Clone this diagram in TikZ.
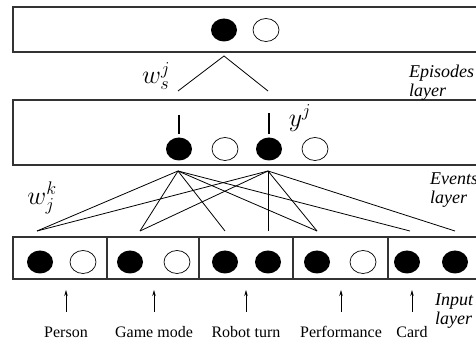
\RequirePackage{fix-cm}
\documentclass[tikz,border=0pt]{standalone}
\usepackage{fontspec}
\setmainfont{Liberation Serif}
\usetikzlibrary{arrows.meta,shapes.geometric}
\tikzset{
  layerbox/.style={
           draw=black!80,
           line width=1.1pt},
  actv/.style={
           ellipse,
           fill=black,
           minimum width=26,
           minimum height=23,
           inner sep=0pt},
  idle/.style={
           ellipse,
           draw=black, line width=0.7pt,
           minimum width=26,
           minimum height=23,
           inner sep=0pt},
  link/.style = {black, line width=0.8pt},
  bar/.style = {black, line width=2.6pt},
  feed/.style = {-{Stealth[length=6pt,width=3.5pt]}, black, line width=0.8pt},
  lbl/.style = {anchor=base, font=\fontsize{16}{19}\selectfont},
  layername/.style = {anchor=west, align=left, inner sep=0pt,
    font=\fontsize{18}{19}\selectfont\itshape},
  wgt/.style = {font=\fontsize{26}{30}\selectfont}
}

\begin{document}
\begin{tikzpicture}[x=1pt,y=1pt]
      \useasboundingbox (0,0) rectangle (476,342);
      \clip (0,0) rectangle (476,342);
      \draw[layerbox] (13,335) rectangle (490,290);
      \node[actv] (s1) at (224,312) {};
      \node[idle] (s2) at (266,312) {};
      \draw[layerbox] (13,242) rectangle (490,177);
      \node[actv] (e1) at (179,193) {};
      \node[idle] (e2) at (225,193) {};
      \node[actv] (e3) at (269,193) {};
      \node[idle] (e4) at (315,193) {};
      \draw[layerbox] (13,105) rectangle (490,63);
      \draw[layerbox] (107,105) -- (107,63);
      \draw[layerbox] (199,105) -- (199,63);
      \draw[layerbox] (293,105) -- (293,63);
      \draw[layerbox] (388,105) -- (388,63);
      \node[actv] (i1) at (40,80) {};
      \node[idle] (i2) at (83,80) {};
      \node[actv] (i3) at (130,80) {};
      \node[idle] (i4) at (177,80) {};
      \node[actv] (i5) at (225,80) {};
      \node[actv] (i6) at (268,80) {};
      \node[actv] (i7) at (317,80) {};
      \node[idle] (i8) at (363,80) {};
      \node[actv] (i9) at (407,80) {};
      \node[actv] (i10) at (455,80) {};
      \node[layername] (eplay) at (409,259) {Episodes\\layer};
      \node[layername] (evlay) at (430,152) {Events\\layer};
      \node[layername] (inlay) at (435,31) {Input\\layer};
      \node[wgt] (ws) at (156,266) {$w_s^j$};
      \node[wgt] (wk) at (42,144) {$w_j^k$};
      \node[wgt] (yj) at (300,224) {$y^j$};
      \node[lbl] (pe) at (66,4) {Person};
      \node[lbl] (gm) at (154,4) {Game mode};
      \node[lbl] (rt) at (246,4) {Robot turn};
      \node[lbl] (pf) at (341,4) {Performance};
      \node[lbl] (ca) at (412,4) {Card};
      \coordinate (sa) at (224,286);
      \coordinate (sl) at (178,251);
      \coordinate (sr) at (268,251);
      \coordinate (a1) at (178,171);
      \coordinate (a2) at (268,171);
      \coordinate (p1) at (37,111);
      \coordinate (p2) at (140,111);
      \coordinate (p3) at (225,111);
      \coordinate (p4) at (268,111);
      \coordinate (p5) at (317,111);
      \coordinate (p6) at (410,111);
      \coordinate (p7) at (455,111);
      \draw[link] (sl) -- (sa) -- (sr);
      \draw[bar] ([yshift=3.5]e1.north) -- ++(0,19);
      \draw[bar] ([yshift=3.5]e3.north) -- ++(0,21);
      \draw[link] (a1) -- (p1);
      \draw[link] (a1) -- (p2);
      \draw[link] (a1) -- (p3);
      \draw[link] (a1) -- (p5);
      \draw[link] (a1) -- (p6);
      \draw[link] (a2) -- (p1);
      \draw[link] (a2) -- (p2);
      \draw[link] (a2) -- (p4);
      \draw[link] (a2) -- (p5);
      \draw[link] (a2) -- (p7);
      \draw[feed] ([yshift=26]pe.base) -- ++(0,22);
      \draw[feed] ([yshift=26]gm.base) -- ++(0,22);
      \draw[feed] ([yshift=26]rt.base) -- ++(0,22);
      \draw[feed] ([yshift=26]pf.base) -- ++(0,22);
      \draw[feed] ([yshift=26]ca.base) -- ++(0,22);
\end{tikzpicture}
\end{document}
